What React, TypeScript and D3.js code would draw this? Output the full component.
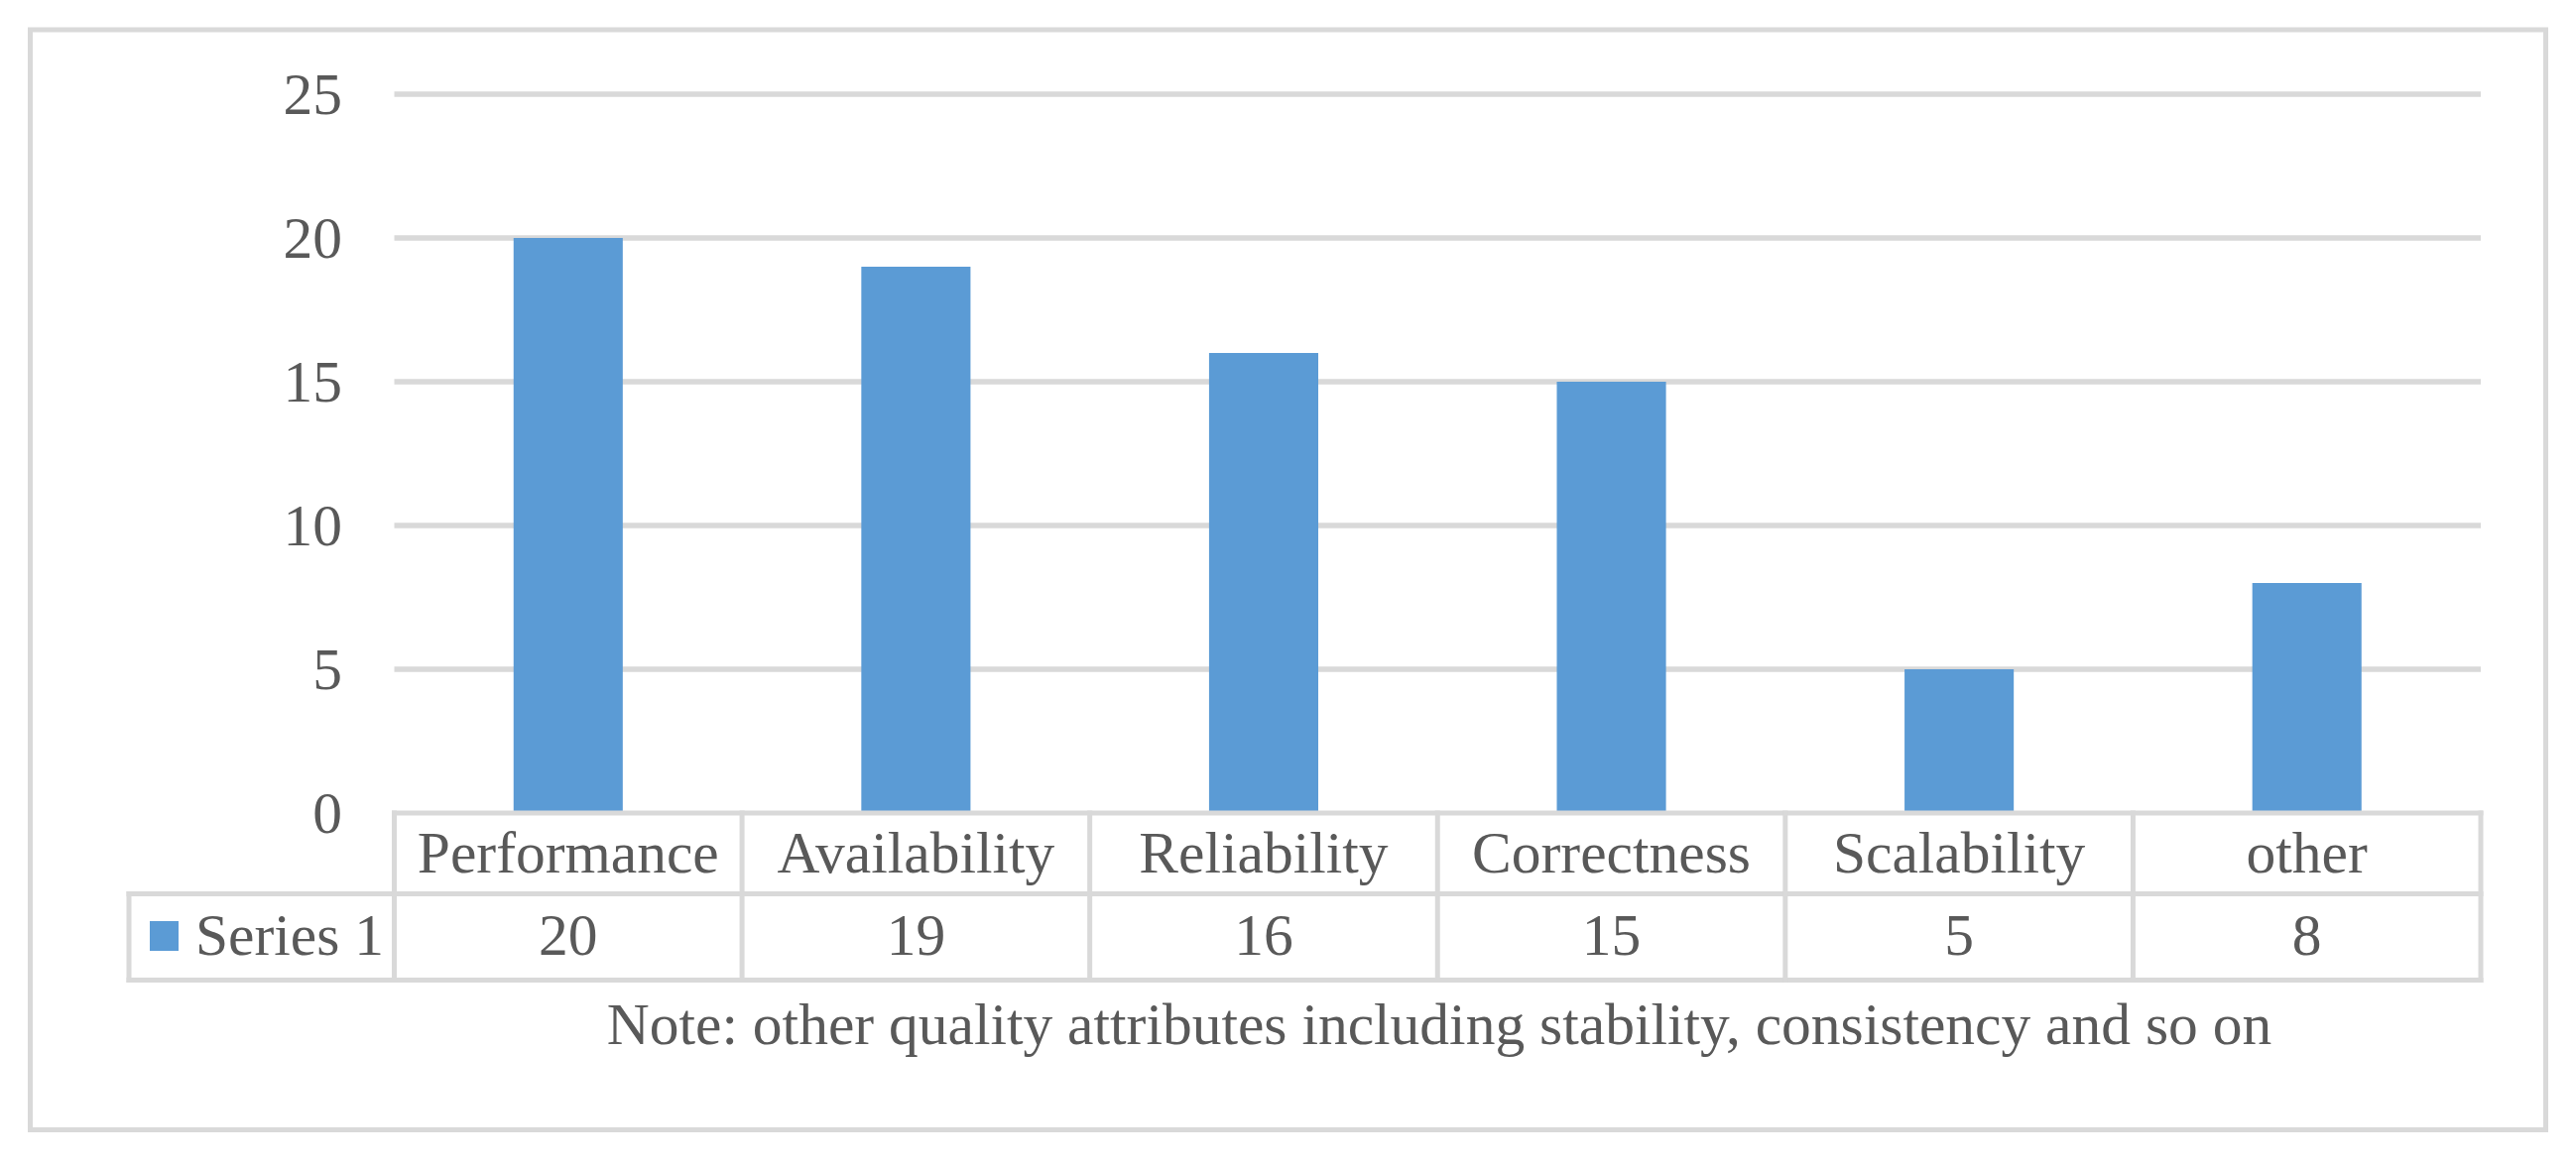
import React from "react";
import * as d3 from "d3";

const categories = ["Performance", "Availability", "Reliability", "Correctness", "Scalability", "other"];
const series1 = [20, 19, 16, 15, 5, 8];
const seriesName = "Series 1";
const yTicks = [0, 5, 10, 15, 20, 25];
const note = "Note: other quality attributes including stability, consistency and so on";

const W = 2597;
const H = 1176;
const GRID = "#D9D9D9";
const TEXT = "#595959";
const BAR = "#5B9BD5";
const FONT = "'Liberation Serif', 'Times New Roman', serif";
const FS = 59.5;

export default function App() {
  const left = 397.5;
  const right = 2501;
  const x = d3.scaleBand<string>().domain(categories).range([left, right]).paddingInner(0).paddingOuter(0);
  const y = d3.scaleLinear().domain([0, 25]).range([820, 95]);
  const barW = x.bandwidth() * 0.314;

  const rowTop = y(0);
  const rowMid = 901.5;
  const rowBot = 988.5;
  const tableLeft = 130;

  return (
    <svg width={W} height={H} style={{ position: "absolute", left: 0, top: 0, background: "#fff" }}>
      <rect x={0} y={0} width={W} height={H} fill="#fff" />
      <rect x={30.5} y={30} width={2536} height={1109.5} fill="none" stroke={GRID} strokeWidth={5} />
      {yTicks.filter((t) => t > 0).map((t) => (
        <line key={t} x1={left} x2={right} y1={y(t)} y2={y(t)} stroke={GRID} strokeWidth={5.5} />
      ))}
      {yTicks.map((t) => (
        <text key={"l" + t} x={345} y={y(t)} dy="0.34em" textAnchor="end" fontFamily={FONT} fontSize={FS} fill={TEXT}>
          {t}
        </text>
      ))}
      {categories.map((c, i) => (
        <rect
          key={c}
          x={(x(c) as number) + x.bandwidth() / 2 - barW / 2}
          y={y(series1[i])}
          width={barW}
          height={y(0) - y(series1[i])}
          fill={BAR}
        />
      ))}
      <g stroke={GRID} strokeWidth={5} strokeLinecap="square">
        <line x1={left} x2={right} y1={rowTop} y2={rowTop} />
        <line x1={tableLeft} x2={right} y1={rowMid} y2={rowMid} />
        <line x1={tableLeft} x2={right} y1={rowBot} y2={rowBot} />
        <line x1={tableLeft} x2={tableLeft} y1={rowMid} y2={rowBot} />
        {categories.map((c) => (
          <line key={"v" + c} x1={x(c) as number} x2={x(c) as number} y1={rowTop} y2={rowBot} />
        ))}
        <line x1={right} x2={right} y1={rowTop} y2={rowBot} />
      </g>
      {categories.map((c) => (
        <text key={"c" + c} x={(x(c) as number) + x.bandwidth() / 2} y={880} textAnchor="middle" fontFamily={FONT} fontSize={FS} fill={TEXT}>
          {c}
        </text>
      ))}
      {categories.map((c, i) => (
        <text key={"d" + c} x={(x(c) as number) + x.bandwidth() / 2} y={963} textAnchor="middle" fontFamily={FONT} fontSize={FS} fill={TEXT}>
          {series1[i]}
        </text>
      ))}
      <rect x={151} y={929} width={29} height={30} fill={BAR} />
      <text x={197} y={963} fontFamily={FONT} fontSize={FS} fill={TEXT}>
        {seriesName}
      </text>
      <text x={1451} y={1053} textAnchor="middle" fontFamily={FONT} fontSize={FS} fill={TEXT}>
        {note}
      </text>
    </svg>
  );
}
